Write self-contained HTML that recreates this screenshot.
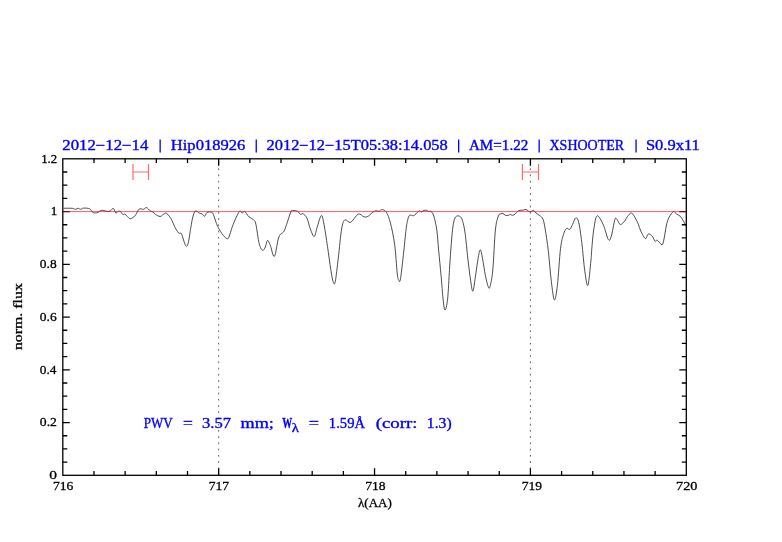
<!DOCTYPE html>
<html><head><meta charset="utf-8"><style>
html,body{margin:0;padding:0;background:#fff;}
svg{display:block;will-change:transform;}
text{font-family:"Liberation Serif",serif;}
</style></head><body>
<svg width="782" height="542" viewBox="0 0 782 542">
<rect width="782" height="542" fill="#fff"/>
<path d="M218.68 475.3V158.8M530.42 475.3V158.8" stroke="#555" stroke-width="0.95" stroke-dasharray="1.7 4.53" fill="none"/>
<g stroke="#ff6a6a" stroke-width="1.2" fill="none">
<path d="M133 164V180M148.5 164V180M133 172H148.5"/>
<path d="M522.4 164V180M538.5 164V180M522.4 172H538.5"/>
</g>
<path d="M63.60 208.30C65.05 208.30 70.35 208.13 72.30 208.30C74.25 208.47 74.28 209.30 75.30 209.30C76.32 209.30 77.53 208.30 78.40 208.30C79.27 208.30 79.65 209.33 80.50 209.30C81.35 209.27 81.97 208.18 83.50 208.10C85.03 208.02 88.17 208.08 89.70 208.80C91.23 209.52 91.77 211.72 92.70 212.40C93.63 213.08 94.43 212.90 95.30 212.90C96.17 212.90 96.97 212.80 97.90 212.40C98.83 212.00 99.88 210.82 100.90 210.50C101.92 210.18 103.15 210.38 104.00 210.50C104.85 210.62 104.98 211.08 106.00 211.20C107.02 211.32 108.90 211.68 110.10 211.20C111.30 210.72 112.25 208.02 113.20 208.30C114.15 208.58 114.95 212.38 115.80 212.90C116.65 213.42 117.53 211.65 118.30 211.40C119.07 211.15 119.63 210.87 120.40 211.40C121.17 211.93 122.13 214.13 122.90 214.60C123.67 215.07 123.88 213.55 125.00 214.20C126.12 214.85 128.33 217.92 129.60 218.50C130.87 219.08 131.58 218.30 132.60 217.70C133.62 217.10 134.62 216.33 135.70 214.90C136.78 213.47 137.77 210.03 139.10 209.10C140.43 208.17 142.50 209.57 143.70 209.30C144.90 209.03 145.20 207.23 146.30 207.50C147.40 207.77 149.20 210.17 150.30 210.90C151.40 211.63 152.03 211.32 152.90 211.90C153.77 212.48 154.30 213.63 155.50 214.40C156.70 215.17 158.83 216.47 160.10 216.50C161.37 216.53 162.00 215.12 163.10 214.60C164.20 214.08 165.25 212.48 166.70 213.40C168.15 214.32 170.52 217.97 171.80 220.10C173.08 222.23 173.28 224.07 174.40 226.20C175.52 228.33 177.32 231.62 178.50 232.90C179.68 234.18 180.32 231.78 181.50 233.90C182.68 236.02 184.48 244.07 185.60 245.60C186.72 247.13 187.33 246.08 188.20 243.10C189.07 240.12 190.03 232.05 190.80 227.70C191.57 223.35 192.03 219.80 192.80 217.00C193.57 214.20 194.30 211.53 195.40 210.90C196.50 210.27 198.30 212.70 199.40 213.20C200.50 213.70 201.13 213.38 202.00 213.90C202.87 214.42 203.75 216.55 204.60 216.30C205.45 216.05 206.00 213.08 207.10 212.40C208.20 211.72 210.17 211.87 211.20 212.20C212.23 212.53 212.22 212.02 213.30 214.40C214.38 216.78 216.03 223.00 217.70 226.50C219.37 230.00 221.63 233.37 223.30 235.40C224.97 237.43 226.60 238.88 227.70 238.70C228.80 238.52 228.98 236.70 229.90 234.30C230.82 231.90 231.63 228.08 233.20 224.30C234.77 220.52 237.82 213.50 239.30 211.60C240.78 209.70 241.17 212.90 242.10 212.90C243.03 212.90 243.80 210.98 244.90 211.60C246.00 212.22 247.23 215.22 248.70 216.60C250.17 217.98 252.50 218.62 253.70 219.90C254.90 221.18 254.98 220.33 255.90 224.30C256.82 228.27 258.08 239.37 259.20 243.70C260.32 248.03 261.58 249.75 262.60 250.30C263.62 250.85 264.48 248.65 265.30 247.00C266.12 245.35 266.67 240.68 267.50 240.40C268.33 240.12 269.15 242.63 270.30 245.30C271.45 247.97 272.98 257.77 274.40 256.40C275.82 255.03 277.23 241.25 278.80 237.10C280.37 232.95 282.50 233.63 283.80 231.50C285.10 229.37 285.40 227.62 286.60 224.30C287.80 220.98 289.90 213.90 291.00 211.60C292.10 209.30 292.10 210.53 293.20 210.50C294.30 210.47 296.40 210.75 297.60 211.40C298.80 212.05 299.47 214.00 300.40 214.40C301.33 214.80 302.10 213.15 303.20 213.80C304.30 214.45 305.82 215.80 307.00 218.30C308.18 220.80 309.10 225.77 310.30 228.80C311.50 231.83 313.00 236.97 314.20 236.50C315.40 236.03 316.30 229.50 317.50 226.00C318.70 222.50 320.30 215.68 321.40 215.50C322.50 215.32 323.08 219.73 324.10 224.90C325.12 230.07 326.38 239.03 327.50 246.50C328.62 253.97 329.83 263.75 330.80 269.70C331.77 275.65 332.55 280.27 333.30 282.20C334.05 284.13 334.47 285.32 335.30 281.30C336.13 277.28 337.25 266.82 338.30 258.10C339.35 249.38 340.50 235.37 341.60 229.00C342.70 222.63 343.38 221.00 344.90 219.90C346.42 218.80 348.48 223.37 350.70 222.40C352.92 221.43 355.98 215.02 358.20 214.10C360.42 213.18 362.35 216.53 364.00 216.90C365.65 217.27 366.85 216.90 368.10 216.30C369.35 215.70 370.25 214.22 371.50 213.30C372.75 212.38 374.37 211.13 375.60 210.80C376.83 210.47 377.80 211.50 378.90 211.30C380.00 211.10 380.95 209.42 382.20 209.60C383.45 209.78 385.02 210.13 386.40 212.40C387.78 214.67 389.12 217.80 390.50 223.20C391.88 228.60 393.58 236.48 394.70 244.80C395.82 253.12 396.53 267.20 397.20 273.10C397.87 279.00 398.15 279.27 398.70 280.20C399.25 281.13 399.65 283.57 400.50 278.70C401.35 273.83 402.87 259.25 403.80 251.00C404.73 242.75 405.45 234.37 406.10 229.20C406.75 224.03 407.12 222.32 407.70 220.00C408.28 217.68 408.65 216.02 409.60 215.30C410.55 214.58 412.32 215.95 413.40 215.70C414.48 215.45 415.13 214.63 416.10 213.80C417.07 212.97 418.37 211.02 419.20 210.70C420.03 210.38 420.33 211.95 421.10 211.90C421.87 211.85 422.83 210.65 423.80 210.40C424.77 210.15 426.13 210.22 426.90 210.40C427.67 210.58 427.70 211.32 428.40 211.50C429.10 211.68 430.20 210.73 431.10 211.50C432.00 212.27 432.85 213.02 433.80 216.10C434.75 219.18 436.00 224.35 436.80 230.00C437.60 235.65 437.88 242.37 438.60 250.00C439.32 257.63 440.35 267.62 441.10 275.80C441.85 283.98 442.45 293.38 443.10 299.10C443.75 304.82 444.25 310.10 445.00 310.10C445.75 310.10 446.85 305.88 447.60 299.10C448.35 292.32 448.97 277.58 449.50 269.40C450.03 261.22 450.28 256.70 450.80 250.00C451.32 243.30 451.98 234.33 452.60 229.20C453.22 224.07 453.80 221.38 454.50 219.20C455.20 217.02 455.88 216.55 456.80 216.10C457.72 215.65 459.07 215.80 460.00 216.50C460.93 217.20 461.55 217.52 462.40 220.30C463.25 223.08 464.18 226.75 465.10 233.20C466.02 239.65 466.97 251.02 467.90 259.00C468.83 266.98 469.87 275.73 470.70 281.10C471.53 286.47 472.13 291.82 472.90 291.20C473.67 290.58 474.45 282.77 475.30 277.40C476.15 272.03 477.17 263.60 478.00 259.00C478.83 254.40 479.53 249.80 480.30 249.80C481.07 249.80 481.75 254.70 482.60 259.00C483.45 263.30 484.47 271.00 485.40 275.60C486.33 280.20 487.43 284.77 488.20 286.60C488.97 288.43 489.23 289.37 490.00 286.60C490.77 283.83 491.90 279.43 492.80 270.00C493.70 260.57 494.47 239.00 495.40 230.00C496.33 221.00 497.47 218.70 498.40 216.00C499.33 213.30 500.23 214.23 501.00 213.80C501.77 213.37 502.28 213.15 503.00 213.40C503.72 213.65 504.40 214.98 505.30 215.30C506.20 215.62 507.57 215.45 508.40 215.30C509.23 215.15 509.67 214.40 510.30 214.40C510.93 214.40 511.42 215.33 512.20 215.30C512.98 215.27 514.10 214.83 515.00 214.20C515.90 213.57 516.77 212.13 517.60 211.50C518.43 210.87 518.97 210.65 520.00 210.40C521.03 210.15 522.80 210.17 523.80 210.00C524.80 209.83 525.23 209.22 526.00 209.40C526.77 209.58 527.62 210.72 528.40 211.10C529.18 211.48 529.87 211.82 530.70 211.70C531.53 211.58 532.52 210.18 533.40 210.40C534.28 210.62 534.92 212.12 536.00 213.00C537.08 213.88 538.73 214.67 539.90 215.70C541.07 216.73 542.12 216.95 543.00 219.20C543.88 221.45 544.32 223.93 545.20 229.20C546.08 234.47 547.28 242.13 548.30 250.80C549.32 259.47 550.28 273.02 551.30 281.20C552.32 289.38 553.38 299.22 554.40 299.90C555.42 300.58 556.38 293.83 557.40 285.30C558.42 276.77 559.48 257.17 560.50 248.70C561.52 240.23 562.50 237.88 563.50 234.50C564.50 231.12 565.48 229.25 566.50 228.40C567.52 227.55 568.58 230.07 569.60 229.40C570.62 228.73 571.58 226.32 572.60 224.40C573.62 222.48 574.68 218.25 575.70 217.90C576.72 217.55 577.68 218.18 578.70 222.30C579.72 226.42 580.78 234.47 581.80 242.60C582.82 250.73 583.78 263.98 584.80 271.10C585.82 278.22 586.88 287.00 587.90 285.30C588.92 283.60 590.27 266.80 590.90 260.90C591.53 255.00 591.23 255.07 591.70 249.90C592.17 244.73 592.80 235.58 593.70 229.90C594.60 224.22 595.50 216.63 597.10 215.80C598.70 214.97 601.43 220.95 603.30 224.90C605.17 228.85 606.98 237.55 608.30 239.50C609.62 241.45 610.10 239.93 611.20 236.60C612.30 233.27 613.93 222.35 614.90 219.50C615.87 216.65 616.10 218.67 617.00 219.50C617.90 220.33 618.98 224.28 620.30 224.50C621.62 224.72 623.72 222.12 624.90 220.80C626.08 219.48 626.28 217.90 627.40 216.60C628.52 215.30 630.20 212.58 631.60 213.00C633.00 213.42 634.68 217.25 635.80 219.10C636.92 220.95 637.47 222.10 638.30 224.10C639.13 226.10 639.62 228.68 640.80 231.10C641.98 233.52 644.15 238.12 645.40 238.60C646.65 239.08 647.13 234.37 648.30 234.00C649.47 233.63 651.30 235.22 652.40 236.40C653.50 237.58 654.07 240.45 654.90 241.10C655.73 241.75 656.22 239.68 657.40 240.30C658.58 240.92 660.90 245.02 662.00 244.80C663.10 244.58 663.25 242.32 664.00 239.00C664.75 235.68 665.67 228.50 666.50 224.90C667.33 221.30 667.82 219.63 669.00 217.40C670.18 215.17 672.35 212.05 673.60 211.50C674.85 210.95 675.40 213.32 676.50 214.10C677.60 214.88 679.10 215.15 680.20 216.20C681.30 217.25 682.20 218.88 683.10 220.40C684.00 221.92 685.08 224.28 685.60 225.30C686.12 226.32 686.10 226.30 686.20 226.50" stroke="#2e2e2e" stroke-width="0.85" fill="none" stroke-linejoin="round"/>
<g stroke="#000" stroke-width="1.3" fill="none">
<rect x="62.8" y="158.8" width="623.50" height="316.50"/>
<path d="M93.98 475.30V471.00M93.98 158.80V163.10M125.15 475.30V471.00M125.15 158.80V163.10M156.33 475.30V471.00M156.33 158.80V163.10M187.50 475.30V471.00M187.50 158.80V163.10M218.68 475.30V468.30M218.68 158.80V165.80M249.85 475.30V471.00M249.85 158.80V163.10M281.02 475.30V471.00M281.02 158.80V163.10M312.20 475.30V471.00M312.20 158.80V163.10M343.37 475.30V471.00M343.37 158.80V163.10M374.55 475.30V468.30M374.55 158.80V165.80M405.73 475.30V471.00M405.73 158.80V163.10M436.90 475.30V471.00M436.90 158.80V163.10M468.08 475.30V471.00M468.08 158.80V163.10M499.25 475.30V471.00M499.25 158.80V163.10M530.42 475.30V468.30M530.42 158.80V165.80M561.60 475.30V471.00M561.60 158.80V163.10M592.77 475.30V471.00M592.77 158.80V163.10M623.95 475.30V471.00M623.95 158.80V163.10M655.12 475.30V471.00M655.12 158.80V163.10M62.80 462.11H67.30M686.30 462.11H681.80M62.80 448.93H67.30M686.30 448.93H681.80M62.80 435.74H67.30M686.30 435.74H681.80M62.80 422.55H69.80M686.30 422.55H679.30M62.80 409.36H67.30M686.30 409.36H681.80M62.80 396.18H67.30M686.30 396.18H681.80M62.80 382.99H67.30M686.30 382.99H681.80M62.80 369.80H69.80M686.30 369.80H679.30M62.80 356.61H67.30M686.30 356.61H681.80M62.80 343.43H67.30M686.30 343.43H681.80M62.80 330.24H67.30M686.30 330.24H681.80M62.80 317.05H69.80M686.30 317.05H679.30M62.80 303.86H67.30M686.30 303.86H681.80M62.80 290.68H67.30M686.30 290.68H681.80M62.80 277.49H67.30M686.30 277.49H681.80M62.80 264.30H69.80M686.30 264.30H679.30M62.80 251.11H67.30M686.30 251.11H681.80M62.80 237.93H67.30M686.30 237.93H681.80M62.80 224.74H67.30M686.30 224.74H681.80M62.80 211.55H69.80M686.30 211.55H679.30M62.80 198.36H67.30M686.30 198.36H681.80M62.80 185.18H67.30M686.30 185.18H681.80M62.80 171.99H67.30M686.30 171.99H681.80"/>
</g>
<path d="M62.8 211.55H686.3" stroke="#ff0000" stroke-opacity="0.62" stroke-width="1" fill="none"/>
<g fill="#000" stroke="#000" stroke-width="0.28">
<text x="49.38" y="479.16" font-size="12.06" font-weight="normal" textLength="7.74" lengthAdjust="spacingAndGlyphs">0</text><text x="39.85" y="426.41" font-size="12.06" font-weight="normal" textLength="17.13" lengthAdjust="spacingAndGlyphs">0.2</text><text x="39.87" y="373.66" font-size="12.06" font-weight="normal" textLength="16.56" lengthAdjust="spacingAndGlyphs">0.4</text><text x="39.86" y="320.91" font-size="12.06" font-weight="normal" textLength="16.84" lengthAdjust="spacingAndGlyphs">0.6</text><text x="39.86" y="268.16" font-size="12.06" font-weight="normal" textLength="16.77" lengthAdjust="spacingAndGlyphs">0.8</text><text x="50.72" y="215.41" font-size="12.06" font-weight="normal" textLength="6.57" lengthAdjust="spacingAndGlyphs">1</text><text x="41.15" y="162.77" font-size="11.47" font-weight="normal" textLength="15.99" lengthAdjust="spacingAndGlyphs">1.2</text><text x="52.98" y="490.18" font-size="11.94" font-weight="normal" textLength="20.43" lengthAdjust="spacingAndGlyphs">716</text><text x="208.79" y="490.18" font-size="11.94" font-weight="normal" textLength="20.32" lengthAdjust="spacingAndGlyphs">717</text><text x="365.29" y="490.18" font-size="11.94" font-weight="normal" textLength="20.25" lengthAdjust="spacingAndGlyphs">718</text><text x="521.79" y="490.18" font-size="11.94" font-weight="normal" textLength="20.36" lengthAdjust="spacingAndGlyphs">719</text><text x="676.05" y="490.18" font-size="11.94" font-weight="normal" textLength="21.32" lengthAdjust="spacingAndGlyphs">720</text><text x="358.01" y="507.20" font-size="12.12" font-weight="normal" textLength="33.78" lengthAdjust="spacingAndGlyphs">λ(AA)</text>
<text transform="translate(22.43 350.12) rotate(-90)" x="0" y="0" font-size="11.67" textLength="67.00" lengthAdjust="spacingAndGlyphs">norm. flux</text>
</g>
<g fill="#0000ff" stroke="#0000ff" stroke-width="0.35">
<text x="62.33" y="150.12" font-size="13.97" font-weight="normal" textLength="85.97" lengthAdjust="spacingAndGlyphs">2012−12−14</text><text x="170.80" y="150.12" font-size="13.97" font-weight="normal" textLength="74.49" lengthAdjust="spacingAndGlyphs">Hip018926</text><text x="266.54" y="150.12" font-size="13.97" font-weight="normal" textLength="181.22" lengthAdjust="spacingAndGlyphs">2012−12−15T05:38:14.058</text><text x="468.95" y="150.12" font-size="13.97" font-weight="normal" textLength="59.39" lengthAdjust="spacingAndGlyphs">AM=1.22</text><text x="549.52" y="150.12" font-size="13.97" font-weight="normal" textLength="74.63" lengthAdjust="spacingAndGlyphs">XSHOOTER</text><text x="645.95" y="150.12" font-size="13.97" font-weight="normal" textLength="53.93" lengthAdjust="spacingAndGlyphs">S0.9x11</text><path d="M160.15 139.6V152.6M256.25 139.6V152.6M458.65 139.6V152.6M539.15 139.6V152.6M636.05 139.6V152.6" stroke-width="1.3" fill="none"/>
</g>
<g fill="#0000ff" stroke="#0000ff" stroke-width="0.35">
<text x="143.71" y="427.56" font-size="14.48" font-weight="normal" textLength="28.95" lengthAdjust="spacingAndGlyphs">PWV</text><text x="183.13" y="427.56" font-size="14.48" font-weight="normal" textLength="9.84" lengthAdjust="spacingAndGlyphs">=</text><text x="202.07" y="427.56" font-size="14.48" font-weight="normal" textLength="29.03" lengthAdjust="spacingAndGlyphs">3.57</text><text x="240.54" y="427.56" font-size="14.48" font-weight="normal" textLength="33.41" lengthAdjust="spacingAndGlyphs">mm;</text><text x="282.20" y="427.56" font-size="14.48" font-weight="bold" textLength="9.90" lengthAdjust="spacingAndGlyphs">W</text><text x="308.80" y="427.56" font-size="14.48" font-weight="normal" textLength="10.20" lengthAdjust="spacingAndGlyphs">=</text><text x="328.88" y="427.56" font-size="14.48" font-weight="normal" textLength="36.15" lengthAdjust="spacingAndGlyphs">1.59Å</text><text x="375.75" y="427.56" font-size="14.48" font-weight="normal" textLength="41.77" lengthAdjust="spacingAndGlyphs">(corr:</text><text x="426.89" y="427.56" font-size="14.48" font-weight="normal" textLength="24.78" lengthAdjust="spacingAndGlyphs">1.3)</text><text x="291.86" y="431.50" font-size="11.71" font-weight="normal" textLength="7.11" lengthAdjust="spacingAndGlyphs">λ</text>
</g>
</svg>
</body></html>
